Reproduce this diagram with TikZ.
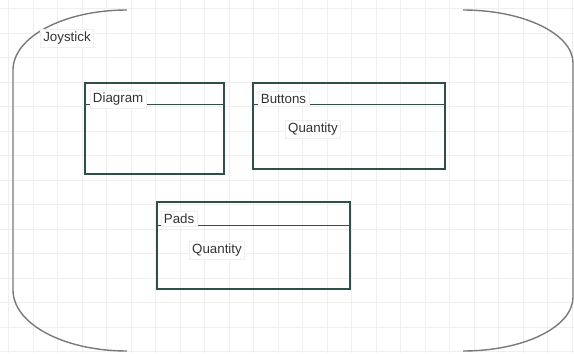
\documentclass[tikz,border=0pt]{standalone}
\usepackage{fontspec}
\setmainfont{Liberation Sans}
\definecolor{gridc}{HTML}{EFEFEF}
\definecolor{boxc}{HTML}{2F4F4A}
\definecolor{brc}{HTML}{7A7A7A}
\definecolor{txtc}{HTML}{333333}
\definecolor{lblb}{HTML}{F0F0F0}
\tikzset{
  umlbox/.style={draw=boxc, line width=1.05pt, inner sep=0pt},
  hdr/.style={draw=boxc, line width=1.05pt},
  lbl/.style={fill=white, draw=lblb, line width=0.4pt, inner xsep=2pt, inner ysep=2pt, text=txtc, font=\fontsize{10}{12}\selectfont},
  bracketline/.style={draw=brc, line width=1.05pt},
}
\begin{document}
\begin{tikzpicture}[x=0.75pt,y=-0.75pt]
\useasboundingbox (0,0) rectangle (574,353);
\fill[white] (0,0) rectangle (574,353);
\foreach \g in {0,...,23} {
  \draw[gridc, line width=0.5pt] (8.5+24.5*\g,0) -- (8.5+24.5*\g,353);
}
\foreach \g in {0,...,14} {
  \draw[gridc, line width=0.5pt] (0,8.5+24.5*\g) -- (574,8.5+24.5*\g);
}
% brackets
\coordinate (lt) at (127,10);
\coordinate (lb) at (127,351);
\coordinate (rt) at (463,10);
\coordinate (rb) at (463,351);
\draw[bracketline] (lt) .. controls (64,10) and (13,37) .. (13,70) -- (13,290) .. controls (13,324) and (64,351) .. (lb);
\draw[bracketline] (rt) .. controls (524,10) and (573,34) .. (573,63) -- (573,297) .. controls (573,327) and (524,351) .. (rb);
\node[lbl, anchor=center] (joy) at (67,38) {Joystick};
% boxes
\node[umlbox, minimum width=104.25pt, minimum height=68.25pt] (dia) at (154.5,128.5) {};
\draw[hdr] ([yshift=-16.5pt]dia.north west) -- ([yshift=-16.5pt]dia.north east);
\node[lbl, anchor=west] (dial) at (90,99) {Diagram};

\node[umlbox, minimum width=144pt, minimum height=64.5pt] (but) at (349,126) {};
\draw[hdr] ([yshift=-16.5pt]but.north west) -- ([yshift=-16.5pt]but.north east);
\node[lbl, anchor=west] (butl) at (258,99) {Buttons};
\node[lbl] (butq) at (313,129) {Quantity};

\node[umlbox, minimum width=144.75pt, minimum height=65.25pt] (pad) at (253.5,245.5) {};
\draw[hdr] ([yshift=-18pt]pad.north west) -- ([yshift=-18pt]pad.north east);
\node[lbl, anchor=west] (padl) at (161,219) {Pads};
\node[lbl] (padq) at (217,250) {Quantity};
\end{tikzpicture}
\end{document}
